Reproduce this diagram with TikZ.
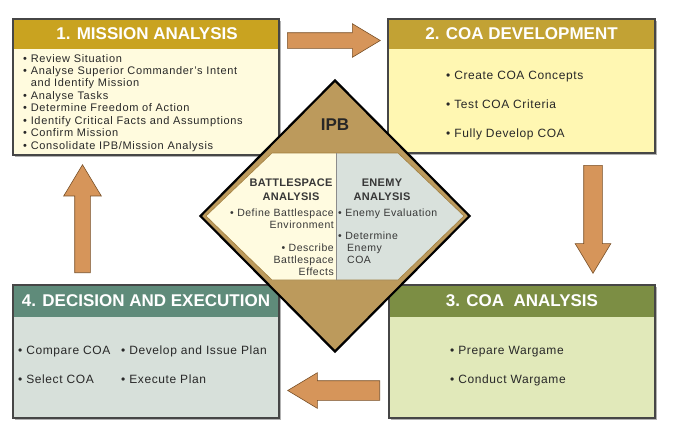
\documentclass[tikz,border=0pt]{standalone}
\usepackage{fontspec}
\setmainfont{Liberation Sans}
\usetikzlibrary{shapes.arrows,shapes.geometric,shadows}
\definecolor{hdA}{RGB}{201,163,32}
\definecolor{bdA}{RGB}{255,251,222}
\definecolor{hdB}{RGB}{194,162,52}
\definecolor{bdB}{RGB}{255,247,178}
\definecolor{hdC}{RGB}{124,142,68}
\definecolor{bdC}{RGB}{225,233,186}
\definecolor{hdD}{RGB}{95,139,122}
\definecolor{bdD}{RGB}{215,224,218}
\definecolor{boxline}{RGB}{70,70,70}
\definecolor{txt}{RGB}{40,40,40}
\definecolor{dtxt}{RGB}{55,55,55}
\definecolor{ipbfill}{RGB}{188,154,92}
\definecolor{ipbband}{RGB}{160,125,60}
\definecolor{leftin}{RGB}{255,251,224}
\definecolor{rightin}{RGB}{217,225,220}
\definecolor{arrfill}{RGB}{214,149,90}
\definecolor{arrline}{RGB}{120,80,40}
\begin{document}
\begin{tikzpicture}[x=1pt,y=-1pt,
  boxbody/.style={anchor=north west, inner sep=0, outer sep=0, draw=boxline, line width=1.1pt,
    drop shadow={shadow xshift=1.5pt, shadow yshift=-1.5pt, fill=black!30, opacity=1}},
  boxhead/.style={anchor=north west, inner sep=0, outer sep=0, minimum height=30pt},
  boxedge/.style={draw=boxline, line width=1.1pt},
  title/.style={text=white, inner sep=0, font=\fontsize{17}{17}\selectfont\bfseries},
  itemA/.style={anchor=west, inner sep=0, text=txt, text height=8pt, text depth=2pt,
    font=\fontsize{11}{11}\selectfont\addfontfeatures{LetterSpace=6}},
  itemB/.style={anchor=west, inner sep=0, text=txt, text height=8.5pt, text depth=2.5pt,
    font=\fontsize{12}{12}\selectfont\addfontfeatures{LetterSpace=5}},
  dtext/.style={inner sep=0, text=dtxt, text height=8pt, text depth=2pt,
    font=\fontsize{10.5}{10.5}\selectfont\addfontfeatures{LetterSpace=5}},
  dhead/.style={inner sep=0, text=dtxt, text height=8pt, text depth=2pt,
    font=\fontsize{11}{11}\selectfont\bfseries\addfontfeatures{LetterSpace=3}},
  fatarrow/.style={single arrow, draw=arrline, line width=0.6pt, fill=arrfill, inner xsep=0pt,
    single arrow tip angle=62, anchor=tail}
]
\useasboundingbox (0,0) rectangle (678,421);
\fill[white] (0,0) rectangle (678,421);

% ---------- Box 1 ----------
\node[boxbody, fill=bdA, minimum width=266pt, minimum height=136pt] (b1) at (13,19) {};
\node[boxhead, fill=hdA, minimum width=266pt] (h1) at (13,19) {};
\draw[boxedge] (b1.north west) rectangle (b1.south east);
\node[title] (t1) at ([xshift=1pt]h1.center) {1. MISSION ANALYSIS};
\node[itemA] (m1) at (23,59) {•\ Review Situation};
\node[itemA] (m2) at (23,71) {•\ Analyse Superior Commander’s Intent};
\node[itemA] (m3) at (23,83) {\phantom{•}\ and Identify Mission};
\node[itemA] (m4) at (23,96) {•\ Analyse Tasks};
\node[itemA] (m5) at (23,108.5) {•\ Determine Freedom of Action};
\node[itemA] (m6) at (23,121) {•\ Identify Critical Facts and Assumptions};
\node[itemA] (m7) at (23,133.5) {•\ Confirm Mission};
\node[itemA] (m8) at (23,146) {•\ Consolidate IPB/Mission Analysis};

% ---------- Box 2 ----------
\node[boxbody, fill=bdB, minimum width=267pt, minimum height=134pt] (b2) at (388,19) {};
\node[boxhead, fill=hdB, minimum width=267pt] (h2) at (388,19) {};
\draw[boxedge] (b2.north west) rectangle (b2.south east);
\node[title] (t2) at (h2.center) {2. COA DEVELOPMENT};
\node[itemB] (d1) at (446,76) {•\ Create COA Concepts};
\node[itemB] (d2) at (446,105) {•\ Test COA Criteria};
\node[itemB] (d3) at (446,134) {•\ Fully Develop COA};

% ---------- Box 3 ----------
\node[boxbody, fill=bdC, minimum width=266pt, minimum height=133pt] (b3) at (389,285) {};
\node[boxhead, fill=hdC, minimum width=266pt, minimum height=32pt] (h3) at (389,285) {};
\draw[boxedge] (b3.north west) rectangle (b3.south east);
\node[title] (t3) at (h3.center) {3. COA\ \ ANALYSIS};
\node[itemB] (c1) at (450,351) {•\ Prepare Wargame};
\node[itemB] (c2) at (450,380) {•\ Conduct Wargame};

% ---------- Box 4 ----------
\node[boxbody, fill=bdD, minimum width=266pt, minimum height=133pt] (b4) at (13,285) {};
\node[boxhead, fill=hdD, minimum width=266pt, minimum height=32pt] (h4) at (13,285) {};
\draw[boxedge] (b4.north west) rectangle (b4.south east);
\node[title] (t4) at (h4.center) {4. DECISION AND EXECUTION};
\node[itemB] (e1) at (18,351) {•\ Compare COA};
\node[itemB] (e2) at (121,351) {•\ Develop and Issue Plan};
\node[itemB] (e3) at (18,380) {•\ Select COA};
\node[itemB] (e4) at (121,380) {•\ Execute Plan};

% ---------- IPB diamond ----------
\node[diamond, aspect=1, inner sep=0, minimum width=270pt, minimum height=272pt,
      fill=ipbfill, draw=black, line width=2.2pt, line join=miter] (ipb) at (335,216) {};
\fill[leftin] (272,153) -- (336,153) -- (336,280) -- (272,280) -- (206,216) -- cycle;
\fill[rightin] (336,153) -- (398,153) -- (464,216) -- (398,280) -- (336,280) -- cycle;
\draw[ipbband, line width=0.6pt] (272,153) -- (398,153) -- (464,216) -- (398,280) -- (272,280) -- (206,216) -- cycle;
\draw[black!45, line width=0.7pt] (336,153) -- (336,280);
\node[inner sep=0, text=black!85, font=\fontsize{17}{17}\selectfont\bfseries] (ipbt) at (335,125) {IPB};

\node[dhead] (bs1) at (291,183) {BATTLESPACE};
\node[dhead] (bs2) at (291,197) {ANALYSIS};
\node[dhead] (en1) at (382,183) {ENEMY};
\node[dhead] (en2) at (382,197) {ANALYSIS};

\node[dtext, anchor=east] (l1) at (334,213) {•\ Define Battlespace};
\node[dtext, anchor=east] (l2) at (334,225.5) {Environment};
\node[dtext, anchor=east] (l3) at (334,248) {•\ Describe};
\node[dtext, anchor=east] (l4) at (334,260) {Battlespace};
\node[dtext, anchor=east] (l5) at (334,272) {Effects};

\node[dtext, anchor=west] (r1) at (338,213) {•\ Enemy Evaluation};
\node[dtext, anchor=west] (r2) at (338,236) {•\ Determine};
\node[dtext, anchor=west] (r3) at (347,248) {Enemy};
\node[dtext, anchor=west] (r4) at (347,260) {COA};

% ---------- Block arrows ----------
\node[fatarrow, inner ysep=7.5pt, minimum height=93pt, minimum width=33pt, single arrow head extend=9pt] (a12) at (287,40.5) {};
\node[fatarrow, rotate=-90, inner ysep=9pt, minimum height=108pt, minimum width=35pt, single arrow head extend=8.5pt] (a23) at (593,165) {};
\node[fatarrow, rotate=180, inner ysep=9.5pt, minimum height=92pt, minimum width=35pt, single arrow head extend=8pt] (a34) at (380,390.5) {};
\node[fatarrow, rotate=90, inner ysep=7.5pt, minimum height=108pt, minimum width=37pt, single arrow head extend=11pt] (a41) at (82.5,273) {};
\end{tikzpicture}
\end{document}
